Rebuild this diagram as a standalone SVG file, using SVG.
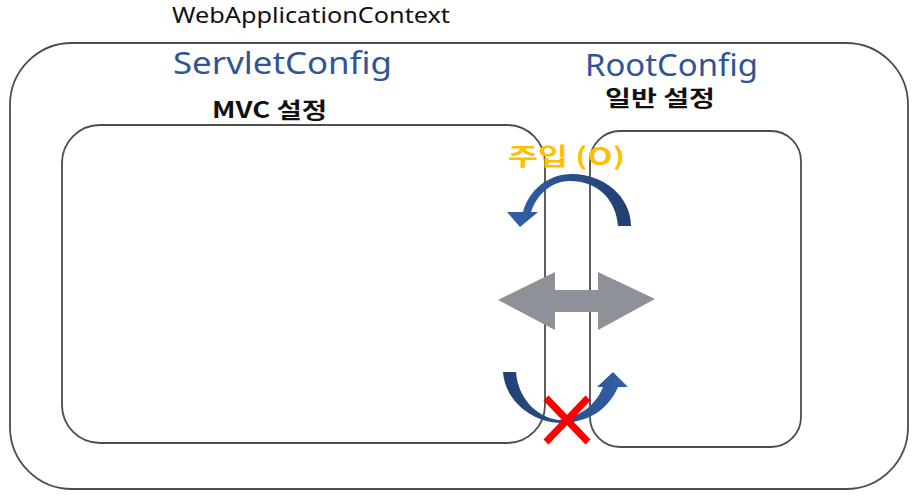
<svg xmlns="http://www.w3.org/2000/svg" width="915" height="500" viewBox="0 0 915 500">
  <defs>
    <style>
      .box { fill: none; stroke: #4d4d4d; stroke-width: 1.8; }
      .title { font-family: "Noto Sans", "Liberation Sans", sans-serif; font-size: 21px; fill: #111; }
      .cfg { font-family: "Noto Sans", "Liberation Sans", sans-serif; font-size: 30px; fill: #2f5597; }
      .sub { font-family: "Noto Sans CJK KR", "Noto Sans", sans-serif; font-size: 22px; font-weight: 700; fill: #111; }
      .inject { font-family: "Noto Sans CJK KR", "Noto Sans", sans-serif; font-size: 24px; font-weight: 700; fill: #ffc000; }
      .cross { stroke: #ff0000; stroke-width: 7; stroke-linecap: butt; }
    </style>
    <linearGradient id="blueTop" x1="0" y1="0" x2="1" y2="0">
      <stop offset="0" stop-color="#3161aa"/>
      <stop offset="1" stop-color="#213e6e"/>
    </linearGradient>
    <linearGradient id="blueBottom" x1="0" y1="0" x2="1" y2="0">
      <stop offset="0" stop-color="#233f72"/>
      <stop offset="1" stop-color="#3160a8"/>
    </linearGradient>
  </defs>

  <rect width="915" height="500" fill="#ffffff"/>

  <g id="web-application-context">
    <rect class="box" x="10" y="43" width="898" height="446" rx="62" ry="62"/>
    <text class="title" x="172" y="23" textLength="278" lengthAdjust="spacingAndGlyphs">WebApplicationContext</text>
  </g>

  <g id="servlet-config">
    <text class="cfg" x="173" y="74" textLength="219" lengthAdjust="spacingAndGlyphs">ServletConfig</text>
    <text class="sub" x="212" y="118" textLength="115" lengthAdjust="spacingAndGlyphs">MVC 설정</text>
    <rect class="box" x="62" y="125" width="483" height="318" rx="38" ry="38"/>
  </g>

  <g id="root-config">
    <text class="cfg" x="585" y="76" textLength="173" lengthAdjust="spacingAndGlyphs">RootConfig</text>
    <text class="sub" x="605" y="106" textLength="110" lengthAdjust="spacingAndGlyphs">일반 설정</text>
    <rect class="box" x="590" y="131" width="211" height="316" rx="30" ry="30"/>
  </g>

  <g id="connectors">
    <text class="inject" x="508" y="165" textLength="117" lengthAdjust="spacingAndGlyphs">주입 (O)</text>
    <path id="inject-arrow" fill="url(#blueTop)" d="M 631 226 C 631 196, 603 174, 572 174 C 548 174, 529 190, 523 212 L 507 212 L 520 227 L 538 212 L 531 212 C 537 194, 552 181, 570 181 C 596 181, 616 198, 618 226 Z"/>
    <polygon id="bidirectional-arrow" fill="#8e9298" points="498,300 555,272 555,290 598,290 598,272 655,299 598,330 598,312 555,312 555,330"/>
    <path id="no-inject-arrow" fill="url(#blueBottom)" d="M 503 372 L 516 372 C 518 398, 536 417, 559 420 C 580 417, 596 405, 603 387 L 597 387 L 613 372 L 628 387 L 618 387 C 608 410, 588 423, 559 423 C 530 421, 505 400, 503 372 Z"/>
    <g id="blocked-mark">
      <line class="cross" x1="546" y1="398" x2="588" y2="442"/>
      <line class="cross" x1="588" y1="398" x2="546" y2="442"/>
    </g>
  </g>
</svg>
